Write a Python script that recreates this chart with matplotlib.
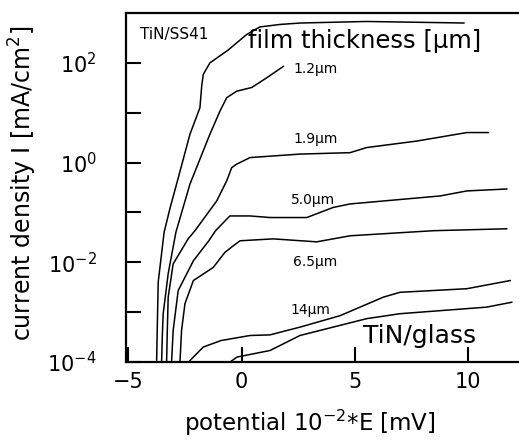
import matplotlib
matplotlib.use("Agg")
import matplotlib.pyplot as plt
from matplotlib.ticker import FixedLocator

plt.rcParams['font.family'] = ['DejaVu Sans']
plt.rcParams['mathtext.fontset'] = 'dejavusans'

# Curves: potential (10^-2 * E [mV]) and current density I [mA/cm^2]
x_ss41 = [-3.75, -3.72, -3.68, -3.55, -3.42, -3.15, -2.87, -2.28, -1.84, -1.76, -1.69, -1.4, -0.6, 0.22, 0.8, 1.7, 2.6, 5.5, 9.8]
i_ss41 = [1.0e-4, 5.0e-4, 4.0e-3, 1.26e-2, 4.0e-2, 0.126, 0.37, 3.7, 12.6, 35, 59, 100, 180, 370, 525, 590, 630, 676, 630]

x_12 = [-3.53, -3.5, -3.46, -3.24, -2.9, -2.28, -1.4, -0.96, -0.66, -0.22, 0.44, 1.1, 1.84]
i_12 = [1.0e-4, 3.2e-4, 9.3e-4, 5.9e-3, 0.04, 0.37, 3.7, 10.7, 20, 27, 32, 50, 85]

x_19 = [-3.31, -3.28, -3.24, -3.02, -2.36, -2.06, -1.1, -0.66, -0.44, -0.22, 0.37, 2.57, 4.78, 5.51, 7.72, 9.93, 10.88]
i_19 = [1.0e-4, 4.0e-4, 2.0e-3, 9.3e-3, 0.0295, 0.043, 0.17, 0.43, 0.79, 0.93, 1.26, 1.48, 1.58, 2.0, 2.7, 4.0, 4.0]

x_50 = [-3.09, -3.02, -2.8, -2.13, -1.45, -1.15, -0.52, 0.37, 1.25, 2.87, 4.04, 4.78, 8.75, 9.93, 11.69]
i_50 = [1.0e-4, 4.3e-4, 2.7e-3, 0.0107, 0.027, 0.043, 0.085, 0.085, 0.079, 0.079, 0.126, 0.148, 0.214, 0.27, 0.295]

x_65 = [-2.72, -2.65, -2.5, -2.13, -1.25, -0.74, -0.37, -0.07, 1.39, 3.31, 4.78, 8.45, 11.69]
i_65 = [1.0e-4, 4.3e-4, 1.48e-3, 4.3e-3, 7.9e-3, 0.0158, 0.0214, 0.027, 0.0295, 0.0257, 0.034, 0.043, 0.047]

x_14 = [-2.28, -1.69, -0.9, 0.37, 1.25, 2.57, 4.34, 6.25, 6.98, 9.93, 11.84]
i_14 = [1.07e-4, 2.0e-4, 2.7e-4, 3.4e-4, 3.5e-4, 5.0e-4, 8.5e-4, 2.0e-3, 2.5e-3, 2.95e-3, 4.3e-3]

x_glass = [-0.51, -0.2, 1.25, 2.57, 5.51, 6.98, 10.8, 11.91]
i_glass = [1.0e-4, 1.26e-4, 1.7e-4, 3.4e-4, 7.4e-4, 9.3e-4, 1.26e-3, 1.58e-3]

curves = [(x_ss41, i_ss41), (x_12, i_12), (x_19, i_19), (x_50, i_50),
          (x_65, i_65), (x_14, i_14), (x_glass, i_glass)]

thickness_labels = ["1.2\u03bcm", "1.9\u03bcm", "5.0\u03bcm", "6.5\u03bcm", "14\u03bcm"]
label_x = [2.27, 2.27, 2.18, 2.27, 2.13]
label_y = [63, 2.5, 0.15, 0.0085, 9.0e-4]

x_ticks = [-5, 0, 5, 10]

fig = plt.figure(figsize=(5.19, 4.40), dpi=100)
ax = fig.add_axes([126/519, 78/440, 393/519, 349/440])

for xs, ys in curves:
    ax.plot(xs, ys, color='black', lw=1.1)

ax.set_yscale('log')
ax.set_xlim(-5.1, 12.23)
ax.set_ylim(1e-4, 1e3)

ax.yaxis.set_major_locator(FixedLocator([1e-4, 1e-3, 1e-2, 1e-1, 1e0, 1e1, 1e2]))
ax.yaxis.set_minor_locator(FixedLocator([]))
ax.set_yticklabels(['$10^{-4}$', '', '$10^{-2}$', '', '$10^{0}$', '', '$10^{2}$'])
ax.set_xticks(x_ticks)
ax.set_xticklabels(['\u22125', '0', '5', '10'])

ax.tick_params(axis='both', direction='in', length=11, width=1.5, labelsize=15)
ax.tick_params(axis='y', pad=21)
ax.tick_params(axis='x', pad=7)

for s in ['left', 'top', 'bottom']:
    ax.spines[s].set_linewidth(1.6)
ax.spines['right'].set_visible(False)

ax.set_xlabel('potential 10$^{-2}$*E [mV]', fontsize=16.5)
ax.xaxis.set_label_coords(0.468, -0.175)
ax.xaxis.label.set_va('center')
ax.set_ylabel('current density I [mA/cm$^{2}$]', fontsize=17)
ax.yaxis.set_label_coords(-0.262, 0.511)
ax.yaxis.label.set_va('center')

ax.text(-4.48, 372, 'TiN/SS41', fontsize=11, va='center', ha='left')
ax.text(0.3, 200, 'film thickness [\u03bcm]', fontsize=17.5, va='baseline', ha='left')
for lab, lx, ly in zip(thickness_labels, label_x, label_y):
    ax.text(lx, ly, lab, fontsize=10, va='baseline', ha='left')
ax.text(5.35, 2.36e-4, 'TiN/glass', fontsize=18, va='baseline', ha='left')

fig.savefig('out.png', dpi=100)
